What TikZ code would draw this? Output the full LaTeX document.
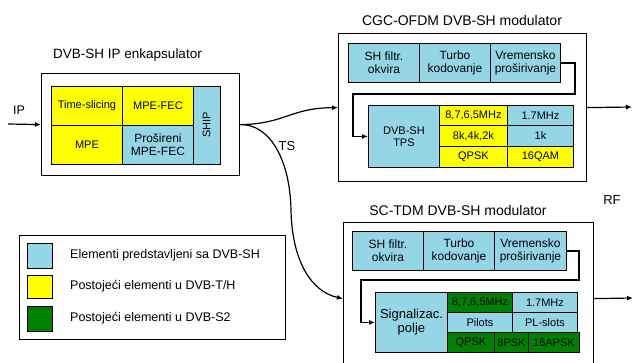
\documentclass[tikz,border=0pt]{standalone}
\usepackage{fontspec}
\setmainfont{Liberation Sans}
\usetikzlibrary{arrows.meta}
\definecolor{cblue}{RGB}{148,214,230}
\definecolor{cyel}{RGB}{255,255,0}
\definecolor{cgrn}{RGB}{0,128,0}
\newcommand{\fs}[1]{\fontsize{#1}{#1}\selectfont}
\tikzset{
  outer/.style={draw=black,line width=1.2pt,fill=white,inner sep=0pt,anchor=north west},
  cell/.style={draw=black,line width=0.9pt,inner sep=0pt,anchor=north west,align=center,font=\fontsize{12}{13}\selectfont},
  small/.style={font=\fontsize{11}{12}\selectfont},
  bl/.style={fill=cblue},
  ye/.style={fill=cyel},
  gr/.style={fill=cgrn},
  title/.style={font=\fontsize{14}{16}\selectfont,inner sep=0pt},
  lab/.style={font=\fontsize{12.5}{14}\selectfont,inner sep=0pt},
  arr/.style={line width=1.2pt,-{Latex[length=6pt,width=5pt]}},
  conn/.style={line width=1.2pt},
  swatch/.style={draw=black,line width=1pt,inner sep=0pt,anchor=north west,minimum width=25pt}
}
\begin{document}
\begin{tikzpicture}[x=1pt,y=-1pt]
\useasboundingbox[fill=white] (0,0) rectangle (637,362);
\clip (0,0) rectangle (637,362);

% ---------- Encapsulator ----------
\node[title,font=\fontsize{13.5}{15}\selectfont] (enctitle) at (127.5,55) {DVB-SH IP enkapsulator};
\node[outer,minimum width=198,minimum height=102] (enc) at (41,73) {};
\node[cell,ye,small,minimum width=71,minimum height=39] (tsl) at (51,86) {Time-slicing};
\node[cell,ye,small,minimum width=71,minimum height=39] (mfec) at (122,86) {MPE-FEC};
\node[cell,ye,small,minimum width=71,minimum height=39] (mpe) at (51,125) {MPE};
\node[cell,bl,minimum width=71,minimum height=39] (pmfec) at (122,125) {Prošireni\\MPE-FEC};
\node[cell,bl,small,anchor=center,rotate=90,minimum width=78,minimum height=27] (ship) at (206.5,125) {SHIP};
\coordinate (ipin) at (8,124);
\draw[arr] (ipin) -- (enc.west);
\node[lab] (iplab) at (19,110) {IP};

% ---------- CGC-OFDM modulator ----------
\node[title] (cgctitle) at (462,20) {CGC-OFDM DVB-SH modulator};
\node[outer,minimum width=248,minimum height=148] (cgc) at (338,33) {};
\node[cell,bl,minimum width=71,minimum height=39] (c1) at (348,43) {SH filtr.\\okvira};
\node[cell,bl,minimum width=71,minimum height=39] (c2) at (419,43) {Turbo\\kodovanje};
\node[cell,bl,minimum width=70,minimum height=39] (c3) at (490,43) {Vremensko\\proširivanje};
\node[cell,bl,small,minimum width=71,minimum height=62] (tps) at (368,105) {DVB-SH\\TPS};
\node[cell,ye,small,minimum width=68,minimum height=20] (g11) at (439,105) {8,7,6,5MHz};
\node[cell,bl,small,minimum width=66,minimum height=20] (g12) at (507,105) {1.7MHz};
\node[cell,ye,small,minimum width=68,minimum height=21] (g21) at (439,125) {8k,4k,2k};
\node[cell,bl,small,minimum width=66,minimum height=21] (g22) at (507,125) {1k};
\node[cell,ye,small,minimum width=68,minimum height=21] (g31) at (439,146) {QPSK};
\node[cell,ye,small,minimum width=66,minimum height=21] (g32) at (507,146) {16QAM};
\draw[conn,-{Latex[length=6pt,width=5pt]}] (c3.east) -- ++(14,0) |- (353,94) |- (tps.west);
\coordinate (cgcout) at (632,107);
\draw[arr] (cgc.east) -- (cgcout);

% ---------- SC-TDM modulator ----------
\node[title] (sctitle) at (458,210) {SC-TDM DVB-SH modulator};
\node[lab,font=\fontsize{13}{14}\selectfont] (rf) at (612,200) {RF};
\node[outer,minimum width=250,minimum height=152] (sct) at (343,222) {};
\node[cell,bl,minimum width=71,minimum height=39] (s1) at (352,231) {SH filtr.\\okvira};
\node[cell,bl,minimum width=71,minimum height=39] (s2) at (423,231) {Turbo\\kodovanje};
\node[cell,bl,minimum width=72,minimum height=39] (s3) at (494,231) {Vremensko\\proširivanje};
\node[cell,bl,font=\fontsize{13}{14}\selectfont,minimum width=72,minimum height=60] (sig) at (375,292) {Signalizac.\\polje};
\node[cell,gr,small,minimum width=65,minimum height=20] (h11) at (447,292) {8,7,6,5MHz};
\node[cell,bl,small,minimum width=65,minimum height=20] (h12) at (512,292) {1.7MHz};
\node[cell,bl,small,minimum width=65,minimum height=20] (h21) at (447,312) {Pilots};
\node[cell,bl,small,minimum width=65,minimum height=20] (h22) at (512,312) {PL-slots};
\node[cell,gr,small,minimum width=47,minimum height=20] (h31) at (447,332) {QPSK};
\node[cell,gr,small,minimum width=34,minimum height=20] (h32) at (494,332) {8PSK};
\node[cell,gr,small,minimum width=51,minimum height=20] (h33) at (528,332) {16APSK};
\draw[conn,-{Latex[length=6pt,width=5pt]}] (s3.east) -- ++(12,0) |- (361,280) |- (sig.west);
\coordinate (sctout) at (633,298);
\draw[arr] (sct.east) -- (sctout);

% ---------- TS connections ----------
\draw[arr] (enc.east) .. controls (285,124) and (290,108) .. (cgc.west);
\draw[arr] (enc.east) .. controls (270,124) and (290,160) .. (291,210)
   .. controls (292,262) and (312,292) .. (sct.west);
\node[lab,font=\fontsize{13}{14}\selectfont] (tslab) at (287,146) {TS};

% ---------- Legend ----------
\node[draw=black,line width=1pt,inner sep=0pt,anchor=north west,minimum width=266,minimum height=104] (leg) at (19,235) {};
\node[swatch,bl,minimum height=25] (sw1) at (27,243) {};
\node[swatch,ye,minimum height=23] (sw2) at (27,275) {};
\node[swatch,gr,minimum height=25] (sw3) at (27,306) {};
\node[lab,anchor=west] (l1) at (70,255.5) {Elementi predstavljeni sa DVB-SH};
\node[lab,anchor=west] (l2) at (70,286.5) {Postojeći elementi u DVB-T/H};
\node[lab,anchor=west] (l3) at (70,318.5) {Postojeći elementi u DVB-S2};
\end{tikzpicture}
\end{document}
